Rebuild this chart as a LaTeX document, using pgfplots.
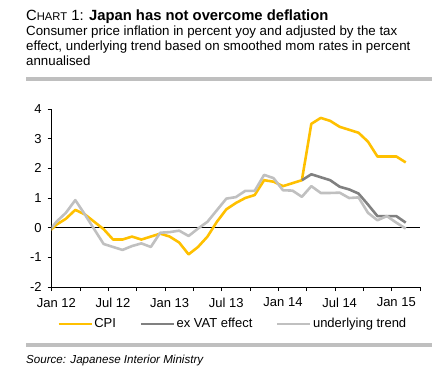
\documentclass[border=0pt]{standalone}
\usepackage{fontspec}
\setmainfont{Liberation Sans}
\usepackage{pgfplots}
\pgfplotsset{compat=1.18}
\definecolor{cpi}{RGB}{255,192,0}
\definecolor{exvat}{RGB}{128,128,128}
\definecolor{trend}{RGB}{192,192,192}
\definecolor{rulegray}{RGB}{191,191,191}

\pgfplotstableread{
x y
-0.5 -0.2
0.5 0.1
1.5 0.3
2.5 0.6
3.5 0.45
4.5 0.2
5.5 -0.05
6.5 -0.4
7.5 -0.4
8.5 -0.3
9.5 -0.4
10.5 -0.3
11.5 -0.2
12.5 -0.3
13.5 -0.5
14.5 -0.9
15.5 -0.65
16.5 -0.3
17.5 0.2
18.5 0.62
19.5 0.83
20.5 1.0
21.5 1.1
22.5 1.6
23.5 1.55
24.5 1.4
25.5 1.5
26.5 1.6
27.5 3.5
28.5 3.7
29.5 3.6
30.5 3.4
31.5 3.3
32.5 3.2
33.5 2.9
34.5 2.4
35.5 2.4
36.5 2.4
37.5 2.2
}\cpidata

\pgfplotstableread{
x y
26.5 1.6
27.5 1.8
28.5 1.7
29.5 1.6
30.5 1.38
31.5 1.29
32.5 1.15
33.5 0.78
34.5 0.39
35.5 0.39
36.5 0.39
37.5 0.17
}\exvatdata

\pgfplotstableread{
x y
-0.5 -0.2
0.5 0.2
1.5 0.5
2.5 0.93
3.5 0.45
4.5 -0.05
5.5 -0.55
6.5 -0.65
7.5 -0.75
8.5 -0.62
9.5 -0.53
10.5 -0.65
11.5 -0.17
12.5 -0.15
13.5 -0.1
14.5 -0.28
15.5 -0.03
16.5 0.2
17.5 0.59
18.5 0.98
19.5 1.03
20.5 1.24
21.5 1.24
22.5 1.78
23.5 1.67
24.5 1.26
25.5 1.25
26.5 1.04
27.5 1.4
28.5 1.17
29.5 1.17
30.5 1.18
31.5 1.0
32.5 1.02
33.5 0.5
34.5 0.25
35.5 0.39
36.5 0.17
37.5 -0.03
}\trenddata

\begin{document}
\begin{tikzpicture}[x=1bp,y=1bp]
\useasboundingbox (0,0) rectangle (432,-378);
\node[anchor=base west, inner sep=0, font=\fontsize{14.8bp}{17bp}\selectfont] at (26,-20) {C{\fontsize{11.2bp}{13bp}\selectfont HART} 1: \textbf{Japan has not overcome deflation}};
\node[anchor=base west, inner sep=0, font=\fontsize{13.3bp}{15bp}\selectfont] at (26,-35.7) {Consumer price inflation in percent yoy and adjusted by the tax};
\node[anchor=base west, inner sep=0, font=\fontsize{13.3bp}{15bp}\selectfont] at (26,-50.7) {effect, underlying trend based on smoothed mom rates in percent};
\node[anchor=base west, inner sep=0, font=\fontsize{13.3bp}{15bp}\selectfont] at (26,-65.7) {annualised};
\fill[rulegray] (26,-76.7) rectangle (432,-80.7);
\fill[rulegray] (26,-342.7) rectangle (432,-346.7);
\node[anchor=base west, inner sep=0, font=\fontsize{11.6bp}{13bp}\selectfont\itshape] at (26,-363.3) {Source: Japanese Interior Ministry};

\begin{axis}[
  at={(51.7bp,-287bp)}, anchor=south west,
  scale only axis, width=368.2bp, height=178bp,
  xmin=0, xmax=39, ymin=-2, ymax=4,
  axis x line=bottom, axis y line=left,
  axis line style={-, line width=0.8pt, black},
  tick align=outside,
  major tick length=4bp, minor tick length=4bp,
  tick style={black, line width=0.8pt},
  ytick={-2,-1,0,1,2,3,4},
  xtick={0,6,12,18,24,30,36},
  minor xtick={3,9,15,21,27,33,39},
  xticklabels={Jan 12,Jul 12,Jan 13,Jul 13,Jan 14,Jul 14,Jan 15},
  /pgf/number format/assume math mode=true,
  tick label style={font=\fontsize{13bp}{15bp}\selectfont},
  x tick label style={xshift=4.7bp, yshift=-3.5bp},
  y tick label style={xshift=-2.5bp},
  legend columns=3,
  legend style={at={(0.491,-0.207)}, anchor=center, draw=none, fill=none,
    font=\fontsize{13bp}{15bp}\selectfont,
    nodes={inner sep=1.5bp},
    /tikz/every even column/.append style={column sep=22bp}},
  legend image code/.code={\draw[#1] (0bp,0bp) -- (33bp,0bp);},
]
\draw[black, line width=0.8pt] (axis cs:0,0) -- (axis cs:39,0);
\addplot[cpi, line width=2.6pt, line join=round] table {\cpidata};
\addlegendentry{CPI}
\addplot[exvat, line width=2.6pt, line join=round] table {\exvatdata};
\addlegendentry{ex VAT effect}
\addplot[trend, line width=2.6pt, line join=round] table {\trenddata};
\addlegendentry{underlying trend}
\end{axis}
\end{tikzpicture}
\end{document}
